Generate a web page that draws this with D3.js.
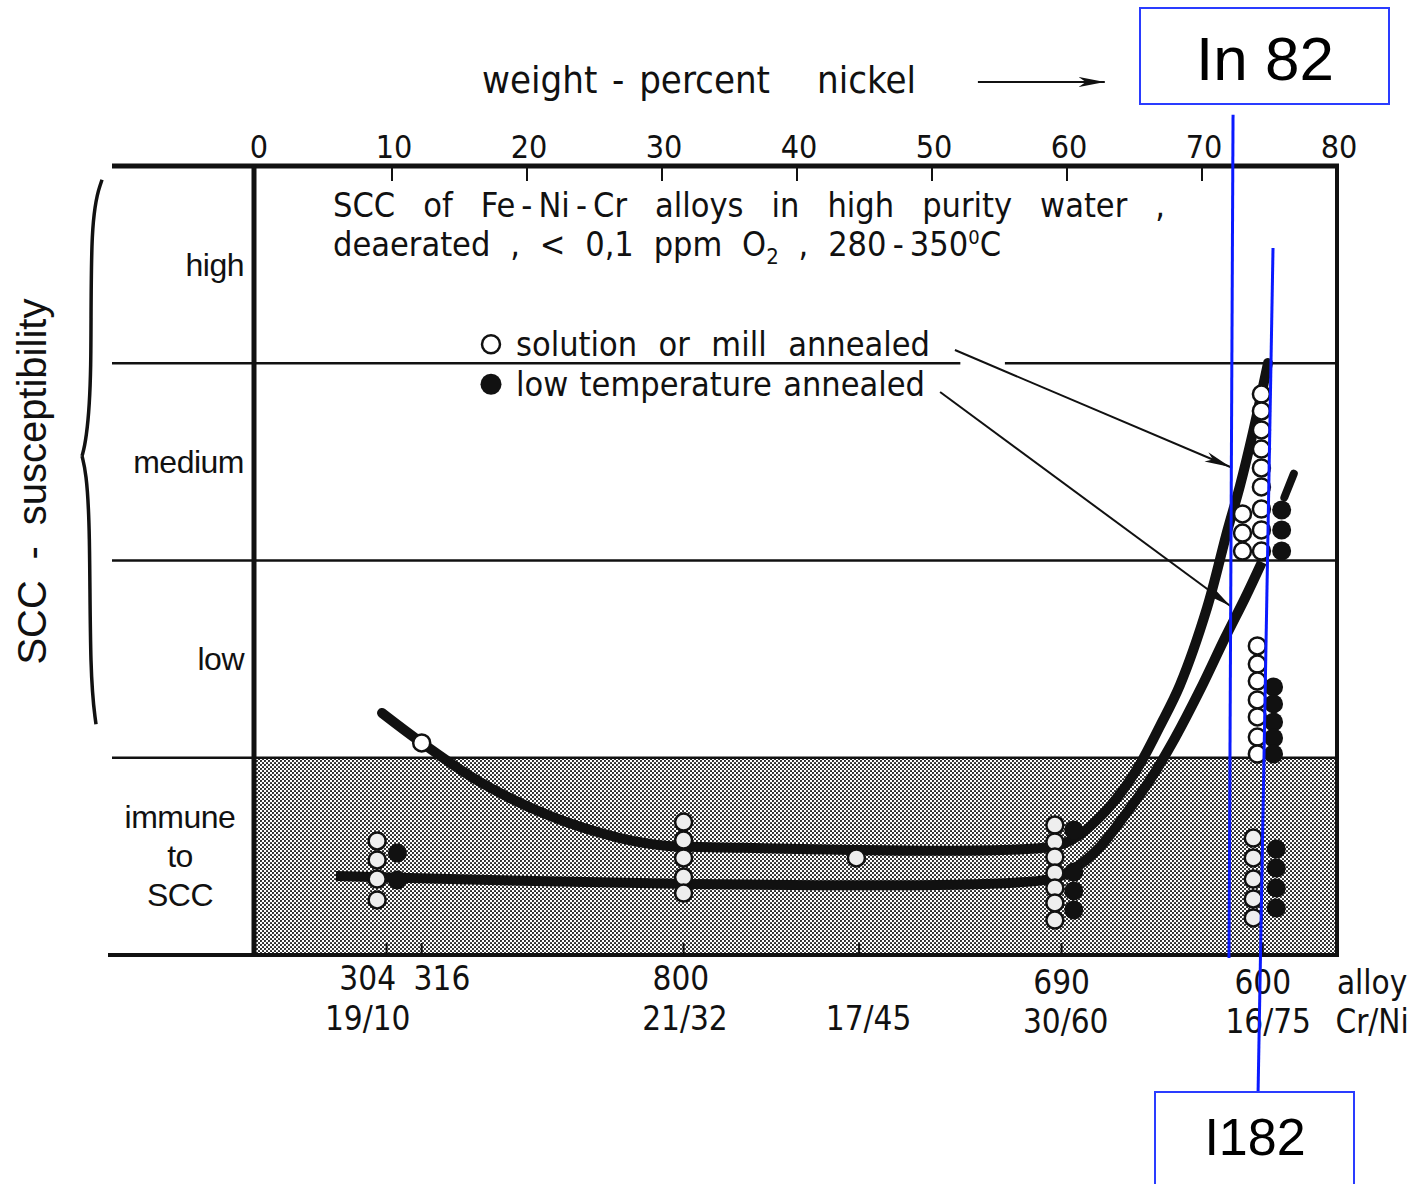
<!DOCTYPE html>
<html>
<head>
<meta charset="utf-8">
<script src="https://cdn.jsdelivr.net/npm/d3@7/dist/d3.min.js"></script>
<style>
body { margin: 0; background: #fff; }
svg { display: block; }
text { font-family: "Liberation Sans", Arial, sans-serif; fill: #111; }
.narrow { font-family: "Liberation Sans Narrow", "DejaVu Sans Condensed", "Liberation Sans", sans-serif; }
</style>
</head>
<body>
<script>
let width = 1417, height = 1184;
let margin = { top: 166, bottom: 229, left: 257, right: 80 };

// top axis: weight-percent nickel
var nickelTicks = [0, 10, 20, 30, 40, 50, 60, 70, 80];

// susceptibility bands (0 = immune ... 4 = top of "high")
var bandLabels = [["immune", "to", "SCC"], ["low"], ["medium"], ["high"]];

// alloys on the bottom axis
var alloyTickNi = [9.6, 12.2, 31.6, 44.6, 59.6, 74.5];
var alloyNames = ["304", "316", "800", "690", "600", "alloy"];
var alloyNameNi = [8.2, 13.7, 31.4, 59.6, 74.5, 82.6];
var alloyCrNi = ["19/10", "21/32", "17/45", "30/60", "16/75", "Cr/Ni"];
var alloyCrNiNi = [8.2, 31.7, 45.3, 59.9, 74.9, 82.6];

// data points [wt% Ni, susceptibility]
var solutionAnnealed = [
    [8.9, 0.578], [8.9, 0.482], [8.9, 0.385], [8.9, 0.279],
    [12.2, 1.075],
    [31.6, 0.674], [31.6, 0.583], [31.6, 0.492], [31.6, 0.395], [31.6, 0.314],
    [44.4, 0.492],
    [59.1, 0.659], [59.1, 0.573], [59.1, 0.497], [59.1, 0.416], [59.1, 0.340], [59.1, 0.264], [59.1, 0.177],
    [74.4, 2.844], [74.4, 2.758], [74.4, 2.662], [74.4, 2.565], [74.4, 2.469], [74.4, 2.373], [74.4, 2.261], [74.4, 2.155], [74.4, 2.048],
    [73.0, 2.236], [73.0, 2.139], [73.0, 2.048],
    [74.1, 1.567], [74.1, 1.475], [74.1, 1.389], [74.1, 1.293], [74.1, 1.207], [74.1, 1.105], [74.1, 1.019],
    [73.8, 0.593], [73.8, 0.492], [73.8, 0.385], [73.8, 0.284], [73.8, 0.188]
];
var lowTempAnnealed = [
    [10.4, 0.517], [10.4, 0.380],
    [60.5, 0.634], [60.5, 0.421], [60.5, 0.325], [60.5, 0.228],
    [75.9, 2.256], [75.9, 2.155], [75.9, 2.048],
    [75.3, 1.359], [75.3, 1.273], [75.3, 1.181], [75.3, 1.100], [75.3, 1.019],
    [75.5, 0.537], [75.5, 0.441], [75.5, 0.340], [75.5, 0.238]
];
var lowTempUpMark = [[76.1, 2.32], [76.8, 2.44]];

// trend curves
var solutionCurve = [
    [9.26, 1.227], [12.22, 1.075], [16.52, 0.877], [21.70, 0.705], [26.89, 0.593],
    [30.44, 0.553], [32.81, 0.548], [58.74, 0.548], [60.59, 0.593], [62.44, 0.700],
    [64.15, 0.837], [65.41, 0.968], [66.89, 1.161], [68.37, 1.369], [70.37, 1.759],
    [71.85, 2.144], [72.81, 2.378], [73.78, 2.651], [74.89, 3.001]
];
var lowTempCurve = [
    [5.85, 0.400], [58.74, 0.385], [60.59, 0.441], [62.44, 0.548], [64.30, 0.710],
    [66.15, 0.887], [68.0, 1.100], [69.85, 1.343], [71.70, 1.607], [73.19, 1.810], [74.44, 1.992]
];

// legend leader arrows [from, to]
var solutionLeader = [[51.7, 3.067], [72.1, 2.474]];
var lowTempLeader = [[50.6, 2.854], [72.1, 1.769]];

// blue annotations
var annoLabels = ["In 82", "I182"];
var annoLines = [[[72.3, 4.26], [72.0, -0.015]], [[75.26, 3.584], [74.15, -0.71]]];

var x = d3.scaleLinear().domain([0, 80]).range([margin.left, width - margin.right]);
var y = d3.scaleLinear().domain([0, 4]).range([height - margin.bottom, margin.top]);

var svg = d3.select("body").append("svg")
    .attr("width", width)
    .attr("height", height);

// stipple pattern for immune band
let defs = svg.append("defs");
let pat = defs.append("pattern")
    .attr("id", "stipple")
    .attr("patternUnits", "userSpaceOnUse")
    .attr("width", 4).attr("height", 4);
pat.append("rect").attr("width", 4).attr("height", 4).attr("fill", "#fff");
pat.append("circle").attr("cx", 1).attr("cy", 1).attr("r", 1.05).attr("fill", "#1a1a1a");
pat.append("circle").attr("cx", 3).attr("cy", 3).attr("r", 1.05).attr("fill", "#1a1a1a");

defs.append("marker")
    .attr("id", "arrow")
    .attr("markerUnits", "userSpaceOnUse")
    .attr("viewBox", "0 -6 26 12")
    .attr("refX", 26).attr("refY", 0)
    .attr("markerWidth", 26).attr("markerHeight", 12)
    .attr("orient", "auto")
    .append("path")
    .attr("d", "M0,-5L26,0L0,5L7,0Z")
    .attr("fill", "#111");

let x0 = x(0) - 3, x1 = x(80);
let leftExt = 112;

// shaded immune region
svg.append("rect")
    .attr("x", x0).attr("y", y(1))
    .attr("width", x1 - x0).attr("height", y(0) - y(1))
    .attr("fill", "url(#stipple)");

// band lines
[1, 2].forEach(function(v) {
    svg.append("line")
        .attr("x1", leftExt).attr("x2", x1)
        .attr("y1", y(v)).attr("y2", y(v))
        .attr("stroke", "#111").attr("stroke-width", 2.5);
});
svg.append("line")
    .attr("x1", leftExt).attr("x2", x(52.1))
    .attr("y1", y(3)).attr("y2", y(3))
    .attr("stroke", "#111").attr("stroke-width", 2.5);
svg.append("line")
    .attr("x1", x(55.4)).attr("x2", x1)
    .attr("y1", y(3)).attr("y2", y(3))
    .attr("stroke", "#111").attr("stroke-width", 2.5);

// frame
svg.append("line").attr("x1", leftExt).attr("x2", x1 + 2).attr("y1", y(4)).attr("y2", y(4))
    .attr("stroke", "#111").attr("stroke-width", 5);
svg.append("line").attr("x1", leftExt - 4).attr("x2", x1 + 2).attr("y1", y(0)).attr("y2", y(0))
    .attr("stroke", "#111").attr("stroke-width", 4);
svg.append("line").attr("x1", x0).attr("x2", x0).attr("y1", y(4)).attr("y2", y(0))
    .attr("stroke", "#111").attr("stroke-width", 5);
svg.append("line").attr("x1", x1).attr("x2", x1).attr("y1", y(4)).attr("y2", y(0))
    .attr("stroke", "#111").attr("stroke-width", 4);

// top axis ticks and labels
svg.selectAll(".topTick")
    .data(nickelTicks.filter(function(d) { return d > 0 && d < 80; }))
    .enter().append("line")
    .attr("class", "topTick")
    .attr("x1", function(d) { return x(d); }).attr("x2", function(d) { return x(d); })
    .attr("y1", y(4)).attr("y2", y(4) + 15)
    .attr("stroke", "#111").attr("stroke-width", 2);
svg.selectAll(".topLabel")
    .data(nickelTicks)
    .enter().append("text")
    .attr("class", "topLabel narrow")
    .attr("x", function(d) { return x(d) + 2; })
    .attr("y", y(4) - 8)
    .attr("text-anchor", "middle")
    .attr("font-size", 32)
    .text(function(d) { return d; });

// bottom alloy ticks
svg.selectAll(".botTick")
    .data(alloyTickNi)
    .enter().append("line")
    .attr("class", "botTick")
    .attr("x1", function(d) { return x(d); }).attr("x2", function(d) { return x(d); })
    .attr("y1", y(0)).attr("y2", y(0) - 12)
    .attr("stroke", "#111").attr("stroke-width", 2);

svg.selectAll(".alloyName")
    .data(alloyNames)
    .enter().append("text")
    .attr("class", "alloyName narrow")
    .attr("x", function(d, i) { return x(alloyNameNi[i]); })
    .attr("y", function(d, i) { return y(0) + 35 + (alloyNameNi[i] > 55 ? 4 : 0); })
    .attr("text-anchor", "middle")
    .attr("font-size", 33)
    .text(function(d) { return d; });
svg.selectAll(".alloyCrNi")
    .data(alloyCrNi)
    .enter().append("text")
    .attr("class", "alloyCrNi narrow")
    .attr("x", function(d, i) { return x(alloyCrNiNi[i]); })
    .attr("y", function(d, i) { return y(0) + 75 + (alloyCrNiNi[i] > 55 ? 3 : 0); })
    .attr("text-anchor", "middle")
    .attr("font-size", 33)
    .text(function(d) { return d; });

// band labels
bandLabels.forEach(function(lines, i) {
    let cy = y(i + 0.5);
    let lh = 39;
    lines.forEach(function(l, j) {
        svg.append("text")
            .attr("x", lines.length > 1 ? 180 : x0 - 10)
            .attr("y", cy + (j - (lines.length - 1) / 2) * lh + 11)
            .attr("text-anchor", lines.length > 1 ? "middle" : "end")
            .attr("font-size", 32)
            .style("letter-spacing", "-0.5px")
            .text(l);
    });
});

// fit word spacing so a text line spans a given width
function fitWords(sel, target) {
    let node = sel.node();
    let natural = node.getComputedTextLength();
    let spaces = (sel.text().match(/ /g) || []).length;
    if (spaces > 0) sel.style("word-spacing", ((target - natural) / spaces) + "px");
}

// y axis title
let yTitle = svg.append("text")
    .attr("transform", "translate(46," + y(2.4) + ") rotate(-90)")
    .attr("text-anchor", "middle")
    .attr("font-size", 40)
    .text("SCC - susceptibility");
fitWords(yTitle, 366);

// brace
let braceX = 98;
let braceLine = d3.line().curve(d3.curveBasis);
svg.append("path")
    .attr("d", braceLine([[braceX + 4, y(3.93)], [braceX - 8, y(3.75)], [braceX - 6, y(2.9)], [braceX - 12, y(2.6)], [braceX - 16, y(2.53)]]))
    .attr("fill", "none").attr("stroke", "#111").attr("stroke-width", 3.5);
svg.append("path")
    .attr("d", braceLine([[braceX - 16, y(2.53)], [braceX - 12, y(2.45)], [braceX - 8, y(2.2)], [braceX - 8, y(1.4)], [braceX - 2, y(1.17)]]))
    .attr("fill", "none").attr("stroke", "#111").attr("stroke-width", 3.5);

// x axis title
let xTitleY = y(4) - 84;
svg.append("text")
    .attr("class", "narrow")
    .attr("x", 482).attr("y", xTitleY + 11)
    .attr("font-size", 38)
    .text("weight - percent")
    .call(fitWords, 288);
svg.append("text")
    .attr("class", "narrow")
    .attr("x", 817).attr("y", xTitleY + 11)
    .attr("font-size", 38)
    .text("nickel");
svg.append("line")
    .attr("x1", x(53.4)).attr("x2", x(62.8))
    .attr("y1", xTitleY).attr("y2", xTitleY)
    .attr("stroke", "#111").attr("stroke-width", 2)
    .attr("marker-end", "url(#arrow)");

// note
let note1 = svg.append("text")
    .attr("class", "narrow")
    .attr("x", 333).attr("y", y(4) + 51)
    .attr("font-size", 34)
    .text("SCC of Fe\u2009-\u2009Ni\u2009-\u2009Cr alloys in high purity water ,");
fitWords(note1, 832);
let note2 = svg.append("text")
    .attr("class", "narrow")
    .attr("x", 333).attr("y", y(4) + 90)
    .attr("font-size", 34);
note2.append("tspan").text("deaerated , < 0,1 ppm O");
note2.append("tspan").attr("font-size", 22).attr("dy", 8).text("2");
note2.append("tspan").attr("dy", -8).text(" , 280\u2009-\u2009350");
note2.append("tspan").attr("font-size", 20).attr("dy", -12).text("0");
note2.append("tspan").attr("dy", 12).text("C");
fitWords(note2, 668);

// legend
let legX = 491;
svg.append("circle").attr("cx", legX).attr("cy", y(3) - 19).attr("r", 9)
    .attr("fill", "#fff").attr("stroke", "#111").attr("stroke-width", 2.5);
svg.append("circle").attr("cx", legX).attr("cy", y(3) + 21).attr("r", 10.5)
    .attr("fill", "#111");
svg.append("text").attr("class", "narrow")
    .attr("x", 516).attr("y", y(3) - 7)
    .attr("font-size", 34)
    .text("solution or mill annealed")
    .call(fitWords, 414);
svg.append("text").attr("class", "narrow")
    .attr("x", 516).attr("y", y(3) + 33)
    .attr("font-size", 34)
    .text("low temperature annealed")
    .call(fitWords, 409);

// leader arrows
[solutionLeader, lowTempLeader].forEach(function(seg) {
    svg.append("line")
        .attr("x1", x(seg[0][0])).attr("y1", y(seg[0][1]))
        .attr("x2", x(seg[1][0])).attr("y2", y(seg[1][1]))
        .attr("stroke", "#111").attr("stroke-width", 2)
        .attr("marker-end", "url(#arrow)");
});

// curves
let curve = d3.line()
    .x(function(d) { return x(d[0]); })
    .y(function(d) { return y(d[1]); })
    .curve(d3.curveCatmullRom.alpha(0.5));
svg.append("path").attr("d", curve(solutionCurve))
    .attr("fill", "none").attr("stroke", "#111").attr("stroke-width", 10)
    .attr("stroke-linecap", "round");
svg.append("path").attr("d", curve(lowTempCurve))
    .attr("fill", "none").attr("stroke", "#111").attr("stroke-width", 10)
    .attr("stroke-linecap", "butt");

// points
svg.selectAll(".low")
    .data(lowTempAnnealed)
    .enter().append("circle")
    .attr("class", "low")
    .attr("cx", function(d) { return x(d[0]); })
    .attr("cy", function(d) { return y(d[1]); })
    .attr("r", 9.5)
    .attr("fill", "#111");
svg.append("line")
    .attr("x1", x(lowTempUpMark[0][0])).attr("y1", y(lowTempUpMark[0][1]))
    .attr("x2", x(lowTempUpMark[1][0])).attr("y2", y(lowTempUpMark[1][1]))
    .attr("stroke", "#111").attr("stroke-width", 8).attr("stroke-linecap", "round");
svg.selectAll(".sol")
    .data(solutionAnnealed)
    .enter().append("circle")
    .attr("class", "sol")
    .attr("cx", function(d) { return x(d[0]); })
    .attr("cy", function(d) { return y(d[1]); })
    .attr("r", 8.5)
    .attr("fill", function(d) { return d[1] < 1 ? "#eee" : "#fff"; })
    .attr("stroke", "#111").attr("stroke-width", 2.5);

// blue annotations
annoLines.forEach(function(seg) {
    svg.append("line")
        .attr("x1", x(seg[0][0])).attr("y1", y(seg[0][1]))
        .attr("x2", x(seg[1][0])).attr("y2", y(seg[1][1]))
        .attr("stroke", "#0a1aff").attr("stroke-width", 3);
});
svg.append("rect").attr("x", 1140).attr("y", 8).attr("width", 249).attr("height", 96)
    .attr("fill", "#fff").attr("stroke", "#2a3cff").attr("stroke-width", 2);
svg.append("text").attr("x", 1265).attr("y", 80)
    .attr("text-anchor", "middle").attr("font-size", 62).style("fill", "#000")
    .text(annoLabels[0]);
svg.append("rect").attr("x", 1155).attr("y", 1092).attr("width", 199).attr("height", 96)
    .attr("fill", "#fff").attr("stroke", "#2a3cff").attr("stroke-width", 2);
svg.append("text").attr("x", 1255).attr("y", 1155)
    .attr("text-anchor", "middle").attr("font-size", 52).style("fill", "#000")
    .text(annoLabels[1]);
</script>
</body>
</html>
